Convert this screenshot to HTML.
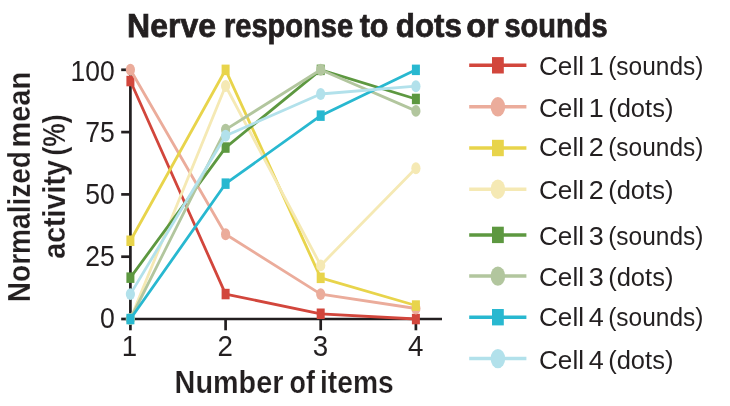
<!DOCTYPE html>
<html lang="en"><head><meta charset="utf-8"><title>Nerve response to dots or sounds</title>
<style>html,body{margin:0;padding:0;background:#fff}svg{display:block;will-change:transform}text{font-family:"Liberation Sans",sans-serif;fill:#231F20}.b{font-weight:bold}</style></head><body>
<svg width="730" height="406" viewBox="0 0 730 406">
<rect width="730" height="406" fill="#fff"/>
<g stroke="#231F20" stroke-width="2.7" fill="none" stroke-linecap="butt">
<path d="M130.4 68.5 V319.0 H442"/>
<path d="M121.2 319.0 H130.4"/>
<path d="M121.2 256.7 H130.4"/>
<path d="M121.2 194.4 H130.4"/>
<path d="M121.2 132.1 H130.4"/>
<path d="M121.2 69.8 H130.4"/>
<path d="M130.4 319.0 V330.3"/>
<path d="M225.6 319.0 V330.3"/>
<path d="M320.7 319.0 V330.3"/>
<path d="M415.9 319.0 V330.3"/>
</g>
<g fill="#D2463C"><polyline points="130.4,81.0 225.6,294.1 320.7,313.8 415.9,319.0" fill="none" stroke="#D2463C" stroke-width="2.8" stroke-linejoin="round"/>
<rect x="126.4" y="75.8" width="8" height="10.5"/>
<rect x="221.6" y="288.8" width="8" height="10.5"/>
<rect x="316.7" y="308.5" width="8" height="10.5"/>
<rect x="411.9" y="313.8" width="8" height="10.5"/>
</g>
<g fill="#EBAC9B"><polyline points="130.4,69.8 225.6,234.3 320.7,294.1 415.9,308.5" fill="none" stroke="#EBAC9B" stroke-width="2.8" stroke-linejoin="round"/>
<ellipse cx="130.4" cy="69.8" rx="4.6" ry="5.95"/>
<ellipse cx="225.6" cy="234.3" rx="4.6" ry="5.95"/>
<ellipse cx="320.7" cy="294.1" rx="4.6" ry="5.95"/>
<ellipse cx="415.9" cy="308.5" rx="4.6" ry="5.95"/>
</g>
<g fill="#E8D44B"><polyline points="130.4,240.8 225.6,69.8 320.7,277.9 415.9,305.5" fill="none" stroke="#E8D44B" stroke-width="2.8" stroke-linejoin="round"/>
<rect x="126.4" y="235.5" width="8" height="10.5"/>
<rect x="221.6" y="64.6" width="8" height="10.5"/>
<rect x="316.7" y="272.6" width="8" height="10.5"/>
<rect x="411.9" y="300.3" width="8" height="10.5"/>
</g>
<g fill="#F5E9B4"><polyline points="130.4,319.0 225.6,86.0 320.7,265.4 415.9,168.2" fill="none" stroke="#F5E9B4" stroke-width="2.8" stroke-linejoin="round"/>
<ellipse cx="130.4" cy="319.0" rx="4.6" ry="5.95"/>
<ellipse cx="225.6" cy="86.0" rx="4.6" ry="5.95"/>
<ellipse cx="320.7" cy="265.4" rx="4.6" ry="5.95"/>
<ellipse cx="415.9" cy="168.2" rx="4.6" ry="5.95"/>
</g>
<g fill="#5D9840"><polyline points="130.4,277.6 225.6,147.6 320.7,69.8 415.9,99.0" fill="none" stroke="#5D9840" stroke-width="2.8" stroke-linejoin="round"/>
<rect x="126.4" y="272.4" width="8" height="10.5"/>
<rect x="221.6" y="142.3" width="8" height="10.5"/>
<rect x="316.7" y="64.6" width="8" height="10.5"/>
<rect x="411.9" y="93.7" width="8" height="10.5"/>
</g>
<g fill="#B2C69E"><polyline points="130.4,319.0 225.6,129.6 320.7,69.8 415.9,110.9" fill="none" stroke="#B2C69E" stroke-width="2.8" stroke-linejoin="round"/>
<ellipse cx="130.4" cy="319.0" rx="4.6" ry="5.95"/>
<ellipse cx="225.6" cy="129.6" rx="4.6" ry="5.95"/>
<ellipse cx="320.7" cy="69.8" rx="4.6" ry="5.95"/>
<ellipse cx="415.9" cy="110.9" rx="4.6" ry="5.95"/>
</g>
<g fill="#28B8D0"><polyline points="130.4,319.0 225.6,183.7 320.7,115.7 415.9,69.8" fill="none" stroke="#28B8D0" stroke-width="2.8" stroke-linejoin="round"/>
<rect x="126.4" y="313.8" width="8" height="10.5"/>
<rect x="221.6" y="178.4" width="8" height="10.5"/>
<rect x="316.7" y="110.4" width="8" height="10.5"/>
<rect x="411.9" y="64.6" width="8" height="10.5"/>
</g>
<g fill="#B2E1EB"><polyline points="130.4,294.1 225.6,135.8 320.7,94.0 415.9,86.2" fill="none" stroke="#B2E1EB" stroke-width="2.8" stroke-linejoin="round"/>
<ellipse cx="130.4" cy="294.1" rx="4.6" ry="5.95"/>
<ellipse cx="225.6" cy="135.8" rx="4.6" ry="5.95"/>
<ellipse cx="320.7" cy="94.0" rx="4.6" ry="5.95"/>
<ellipse cx="415.9" cy="86.2" rx="4.6" ry="5.95"/>
</g>
<g fill="#D2463C"><path d="M469.2 65.3 H526.4" stroke="#D2463C" stroke-width="3.5" fill="none"/>
<rect x="492" y="57.1" width="11.8" height="16.4"/>
</g>
<text x="539" y="75.2" font-size="25.5" lengthAdjust="spacingAndGlyphs" textLength="45">Cell</text>
<text x="588.8" y="75.2" font-size="25.5" lengthAdjust="spacingAndGlyphs" textLength="15">1</text>
<text x="608.2" y="75.2" font-size="25.5" lengthAdjust="spacingAndGlyphs" textLength="95.2">(sounds)</text>
<g fill="#EBAC9B"><path d="M469.2 106.8 H526.4" stroke="#EBAC9B" stroke-width="3.5" fill="none"/>
<ellipse cx="497.9" cy="106.8" rx="7.3" ry="9.7"/>
</g>
<text x="539" y="116.6" font-size="25.5" lengthAdjust="spacingAndGlyphs" textLength="45">Cell</text>
<text x="588.8" y="116.6" font-size="25.5" lengthAdjust="spacingAndGlyphs" textLength="15">1</text>
<text x="608.2" y="116.6" font-size="25.5" lengthAdjust="spacingAndGlyphs" textLength="65.2">(dots)</text>
<g fill="#E8D44B"><path d="M469.2 148.0 H526.4" stroke="#E8D44B" stroke-width="3.5" fill="none"/>
<rect x="492" y="139.8" width="11.8" height="16.4"/>
</g>
<text x="539" y="156.4" font-size="25.5" lengthAdjust="spacingAndGlyphs" textLength="45">Cell</text>
<text x="588.8" y="156.4" font-size="25.5" lengthAdjust="spacingAndGlyphs" textLength="15">2</text>
<text x="608.2" y="156.4" font-size="25.5" lengthAdjust="spacingAndGlyphs" textLength="95.2">(sounds)</text>
<g fill="#F5E9B4"><path d="M469.2 189.2 H526.4" stroke="#F5E9B4" stroke-width="3.5" fill="none"/>
<ellipse cx="497.9" cy="189.2" rx="7.3" ry="9.7"/>
</g>
<text x="539" y="198.5" font-size="25.5" lengthAdjust="spacingAndGlyphs" textLength="45">Cell</text>
<text x="588.8" y="198.5" font-size="25.5" lengthAdjust="spacingAndGlyphs" textLength="15">2</text>
<text x="608.2" y="198.5" font-size="25.5" lengthAdjust="spacingAndGlyphs" textLength="65.2">(dots)</text>
<g fill="#5D9840"><path d="M469.2 234.9 H526.4" stroke="#5D9840" stroke-width="3.5" fill="none"/>
<rect x="492" y="226.7" width="11.8" height="16.4"/>
</g>
<text x="539" y="245.2" font-size="25.5" lengthAdjust="spacingAndGlyphs" textLength="45">Cell</text>
<text x="588.8" y="245.2" font-size="25.5" lengthAdjust="spacingAndGlyphs" textLength="15">3</text>
<text x="608.2" y="245.2" font-size="25.5" lengthAdjust="spacingAndGlyphs" textLength="95.2">(sounds)</text>
<g fill="#B2C69E"><path d="M469.2 276.1 H526.4" stroke="#B2C69E" stroke-width="3.5" fill="none"/>
<ellipse cx="497.9" cy="276.1" rx="7.3" ry="9.7"/>
</g>
<text x="539" y="286.1" font-size="25.5" lengthAdjust="spacingAndGlyphs" textLength="45">Cell</text>
<text x="588.8" y="286.1" font-size="25.5" lengthAdjust="spacingAndGlyphs" textLength="15">3</text>
<text x="608.2" y="286.1" font-size="25.5" lengthAdjust="spacingAndGlyphs" textLength="65.2">(dots)</text>
<g fill="#28B8D0"><path d="M469.2 317.2 H526.4" stroke="#28B8D0" stroke-width="3.5" fill="none"/>
<rect x="492" y="309.0" width="11.8" height="16.4"/>
</g>
<text x="539" y="326.1" font-size="25.5" lengthAdjust="spacingAndGlyphs" textLength="45">Cell</text>
<text x="588.8" y="326.1" font-size="25.5" lengthAdjust="spacingAndGlyphs" textLength="15">4</text>
<text x="608.2" y="326.1" font-size="25.5" lengthAdjust="spacingAndGlyphs" textLength="95.2">(sounds)</text>
<g fill="#B2E1EB"><path d="M469.2 358.6 H526.4" stroke="#B2E1EB" stroke-width="3.5" fill="none"/>
<ellipse cx="497.9" cy="358.6" rx="7.3" ry="9.7"/>
</g>
<text x="539" y="368.7" font-size="25.5" lengthAdjust="spacingAndGlyphs" textLength="45">Cell</text>
<text x="588.8" y="368.7" font-size="25.5" lengthAdjust="spacingAndGlyphs" textLength="15">4</text>
<text x="608.2" y="368.7" font-size="25.5" lengthAdjust="spacingAndGlyphs" textLength="65.2">(dots)</text>
<text class="b" x="127.1" y="36.8" font-size="32.8" stroke="#231F20" stroke-width="0.75" textLength="88.9" lengthAdjust="spacingAndGlyphs">Nerve</text>
<text class="b" x="223.9" y="36.8" font-size="32.8" stroke="#231F20" stroke-width="0.75" textLength="129.3" lengthAdjust="spacingAndGlyphs">response</text>
<text class="b" x="359.7" y="36.8" font-size="32.8" stroke="#231F20" stroke-width="0.75" textLength="28.8" lengthAdjust="spacingAndGlyphs">to</text>
<text class="b" x="395.8" y="36.8" font-size="32.8" stroke="#231F20" stroke-width="0.75" textLength="66.1" lengthAdjust="spacingAndGlyphs">dots</text>
<text class="b" x="466.2" y="36.8" font-size="32.8" stroke="#231F20" stroke-width="0.75" textLength="32.6" lengthAdjust="spacingAndGlyphs">or</text>
<text class="b" x="504.5" y="36.8" font-size="32.8" stroke="#231F20" stroke-width="0.75" textLength="103.1" lengthAdjust="spacingAndGlyphs">sounds</text>
<text class="b" x="174.6" y="392.9" stroke="#fff" stroke-width="0.2" font-size="31.3" textLength="108.8" lengthAdjust="spacingAndGlyphs">Number</text>
<text class="b" x="289.5" y="392.9" stroke="#fff" stroke-width="0.2" font-size="31.3" textLength="25.4" lengthAdjust="spacingAndGlyphs">of</text>
<text class="b" x="320.0" y="392.9" stroke="#fff" stroke-width="0.2" font-size="31.3" textLength="73.7" lengthAdjust="spacingAndGlyphs">items</text>
<text class="b" transform="translate(30.1 302.2) rotate(-90)" stroke="#fff" stroke-width="0.2" font-size="31.5" lengthAdjust="spacingAndGlyphs" textLength="151.2">Normalized</text>
<text class="b" transform="translate(30.1 147.5) rotate(-90)" stroke="#fff" stroke-width="0.2" font-size="31.5" lengthAdjust="spacingAndGlyphs" textLength="75.6">mean</text>
<text class="b" transform="translate(64.5 258.8) rotate(-90)" stroke="#fff" stroke-width="0.2" font-size="31.5" lengthAdjust="spacingAndGlyphs" textLength="98.7">activity</text>
<text class="b" transform="translate(64.5 155.5) rotate(-90)" stroke="#fff" stroke-width="0.2" font-size="31.5" lengthAdjust="spacingAndGlyphs" textLength="41.1">(%)</text>
<text x="114.8" y="328.1" font-size="28.6" text-anchor="end" textLength="14.8" lengthAdjust="spacingAndGlyphs">0</text>
<text x="114.8" y="265.8" font-size="28.6" text-anchor="end" textLength="29.5" lengthAdjust="spacingAndGlyphs">25</text>
<text x="114.8" y="204.3" font-size="28.6" text-anchor="end" textLength="29.5" lengthAdjust="spacingAndGlyphs">50</text>
<text x="114.8" y="141.5" font-size="28.6" text-anchor="end" textLength="29.5" lengthAdjust="spacingAndGlyphs">75</text>
<text x="114.8" y="81.0" font-size="28.6" text-anchor="end" textLength="44.2" lengthAdjust="spacingAndGlyphs">100</text>
<text x="129.4" y="356.1" font-size="28.8" text-anchor="middle" textLength="15.4" lengthAdjust="spacingAndGlyphs">1</text>
<text x="225.3" y="356.1" font-size="28.8" text-anchor="middle" textLength="15.4" lengthAdjust="spacingAndGlyphs">2</text>
<text x="320.4" y="356.1" font-size="28.8" text-anchor="middle" textLength="15.4" lengthAdjust="spacingAndGlyphs">3</text>
<text x="415.6" y="356.1" font-size="28.8" text-anchor="middle" textLength="15.4" lengthAdjust="spacingAndGlyphs">4</text>
</svg></body></html>
